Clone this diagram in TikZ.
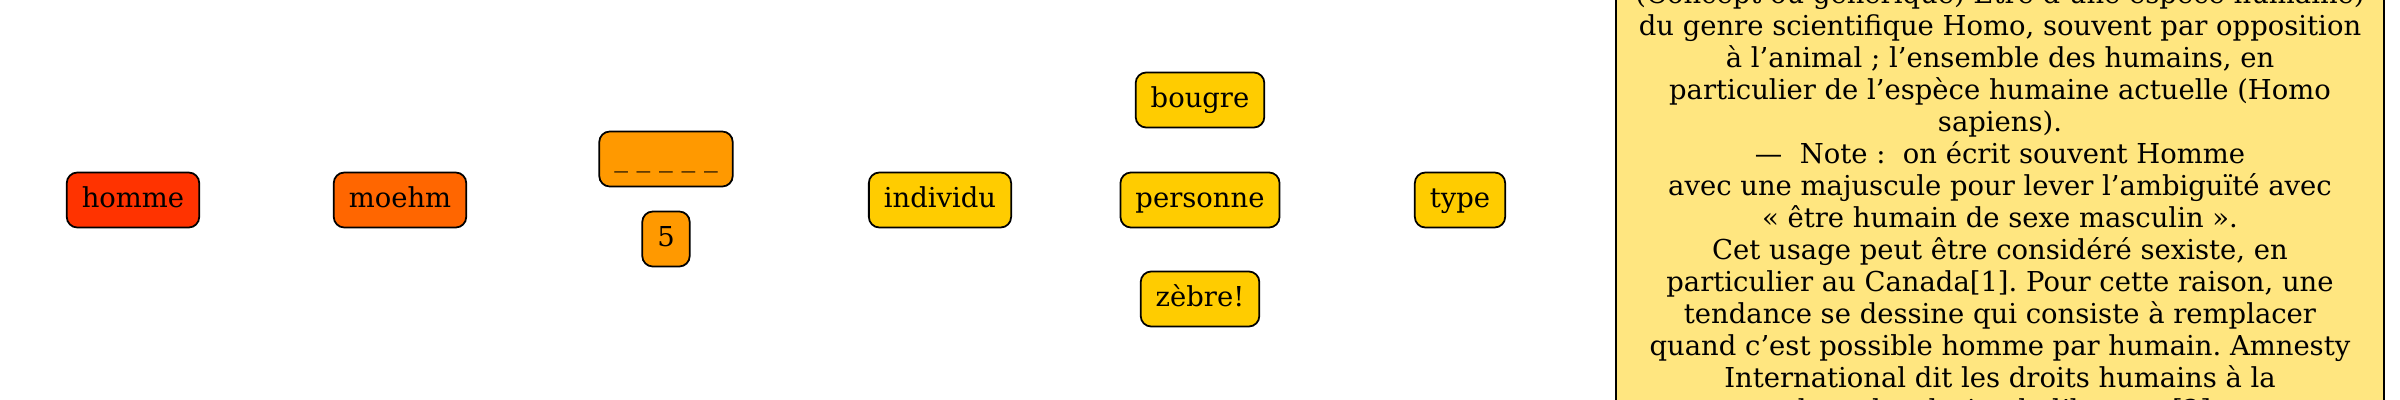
\documentclass[tikz,border=0pt]{standalone}
\usepackage{fontspec}
\setmainfont{DejaVu Serif}
\frenchspacing
\definecolor{cHomme}{HTML}{FF3300}
\definecolor{cMoehm}{HTML}{FF6600}
\definecolor{cOrange}{HTML}{FF9900}
\definecolor{cYellow}{HTML}{FFCC00}
\definecolor{cDesc}{HTML}{FFE680}
\begin{document}
\begin{tikzpicture}[x=0.01cm,y=-0.01cm,
  word/.style={draw=black, line width=0.5pt, rounded corners=3pt,
    inner xsep=0.15cm, inner ysep=0pt, minimum height=0.55cm,
    text height=6pt, text depth=2pt, font=\fontsize{7.8}{9.1}\selectfont},
  desc/.style={draw=black, line width=0.5pt, fill=cDesc, inner sep=0pt,
    minimum width=7.67cm, minimum height=4.9cm, align=center,
    font=\fontsize{7.8}{9.1}\selectfont}]
\useasboundingbox (0,0) rectangle (2400,400);
\node[word, fill=cHomme] (homme) at (133,200) {homme};
\node[word, fill=cMoehm] (moehm) at (400,200) {moehm};
\node[word, fill=cOrange] (blank) at (666,159) {\_ \_ \_ \_ \_};
\node[word, fill=cOrange] (five) at (666,239) {5};
\node[word, fill=cYellow] (individu) at (940,200) {individu};
\node[word, fill=cYellow] (bougre) at (1200,100) {bougre};
\node[word, fill=cYellow] (personne) at (1200,200) {personne};
\node[word, fill=cYellow] (zebre) at (1200,299) {zèbre!};
\node[word, fill=cYellow] (type) at (1460,200) {type};
\node[desc] (def) at (2000,202) {(Concept ou générique) Être d’une espèce humaine)\\
du genre scientifique Homo, souvent par opposition\\
à l’animal~; l’ensemble des humains, en\\
particulier de l’espèce humaine actuelle (Homo\\
sapiens).\\
—~~Note~:~~on écrit souvent Homme\\
avec une majuscule pour lever l’ambiguïté avec\\
«~être humain de sexe masculin~».\\
Cet usage peut être considéré sexiste, en\\
particulier au Canada[1]. Pour cette raison, une\\
tendance se dessine qui consiste à remplacer\\
quand c’est possible homme par humain. Amnesty\\
International dit les droits humains à la\\
place des droits de l’homme[2].};
\end{tikzpicture}
\end{document}
